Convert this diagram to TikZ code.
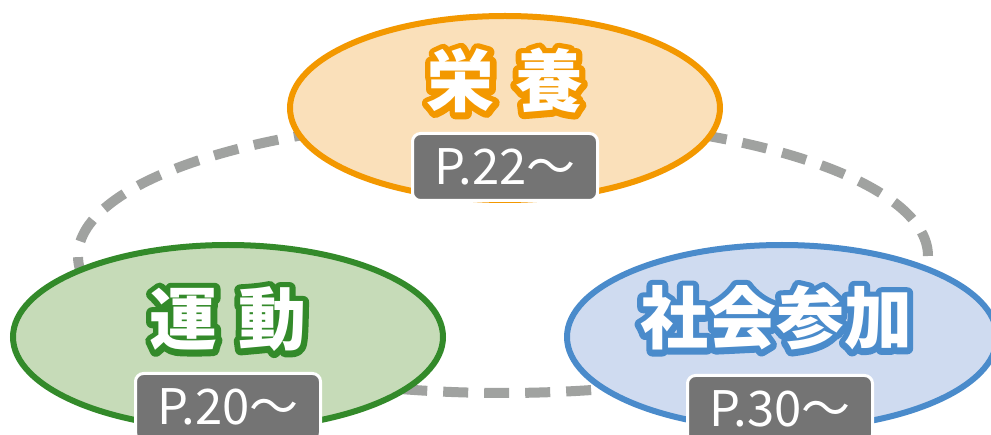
\documentclass[tikz,border=0pt]{standalone}
\usepackage{fontspec}
\newfontfamily\jp{Noto Sans CJK JP}
\definecolor{dashgray}{HTML}{A0A2A0}
\definecolor{orline}{HTML}{F39800}
\definecolor{orfill}{HTML}{FAE0BA}
\definecolor{grline}{HTML}{338A2A}
\definecolor{grfill}{HTML}{C6DBB8}
\definecolor{blline}{HTML}{4A8BCB}
\definecolor{blfill}{HTML}{CFDBF0}
\definecolor{labgray}{HTML}{747474}
\usetikzlibrary{shapes.geometric}
% outlined text: stroked copy in colour #1 under white fill
\newcommand\outlinedtext[2]{%
  \makebox[0pt][l]{\color{#1}\special{pdf:literal direct 1 Tr 12 w 1 j 1 J}#2\special{pdf:literal direct 0 Tr 1 w}}%
  {\color{white}#2}}
\tikzset{
  topic/.style={ellipse, line width=6pt, minimum width=430pt, minimum height=184pt, inner sep=0pt},
  title/.style={font=\jp\bfseries\fontsize{68}{70}\selectfont, text=white, inner sep=0pt, anchor=base},
  pagelab/.style={rounded corners=8pt, fill=labgray, draw=white, line width=3pt, minimum width=185pt, minimum height=67pt, text=white, font=\jp\fontsize{49}{51}\selectfont, inner sep=0pt},
  link/.style={draw=dashgray, line width=10pt, dash pattern=on 25pt off 16pt}
}
\begin{document}
\begin{tikzpicture}[x=1pt,y=-1pt]
\useasboundingbox (0,0) rectangle (991,435);
\clip (0,0) rectangle (991,435);
\fill[white] (0,0) rectangle (991,435);
\node[ellipse, minimum width=850pt, minimum height=274pt, inner sep=0pt, link] (ring) at (503,256) {};
\node[topic, draw=orline, fill=orfill] (eiyo) at (505,108) {};
\node[topic, draw=grline, fill=grfill] (undo) at (228,337) {};
\node[topic, draw=blline, fill=blfill] (shakai) at (782,337) {};
\node[title] (t1) at (505,107) {\outlinedtext{orline}{栄\hspace{0.3em}養}};
\node[title] (t2) at (228,345) {\outlinedtext{grline}{運\hspace{0.3em}動}};
\node[title] (t3) at (776,344) {\outlinedtext{blline}{社会参加}};
\node[pagelab] (p1) at (505,167) {P.22～};
\node[pagelab] (p2) at (228,407) {P.20～};
\node[pagelab] (p3) at (780,409) {P.30～};
\end{tikzpicture}
\end{document}
